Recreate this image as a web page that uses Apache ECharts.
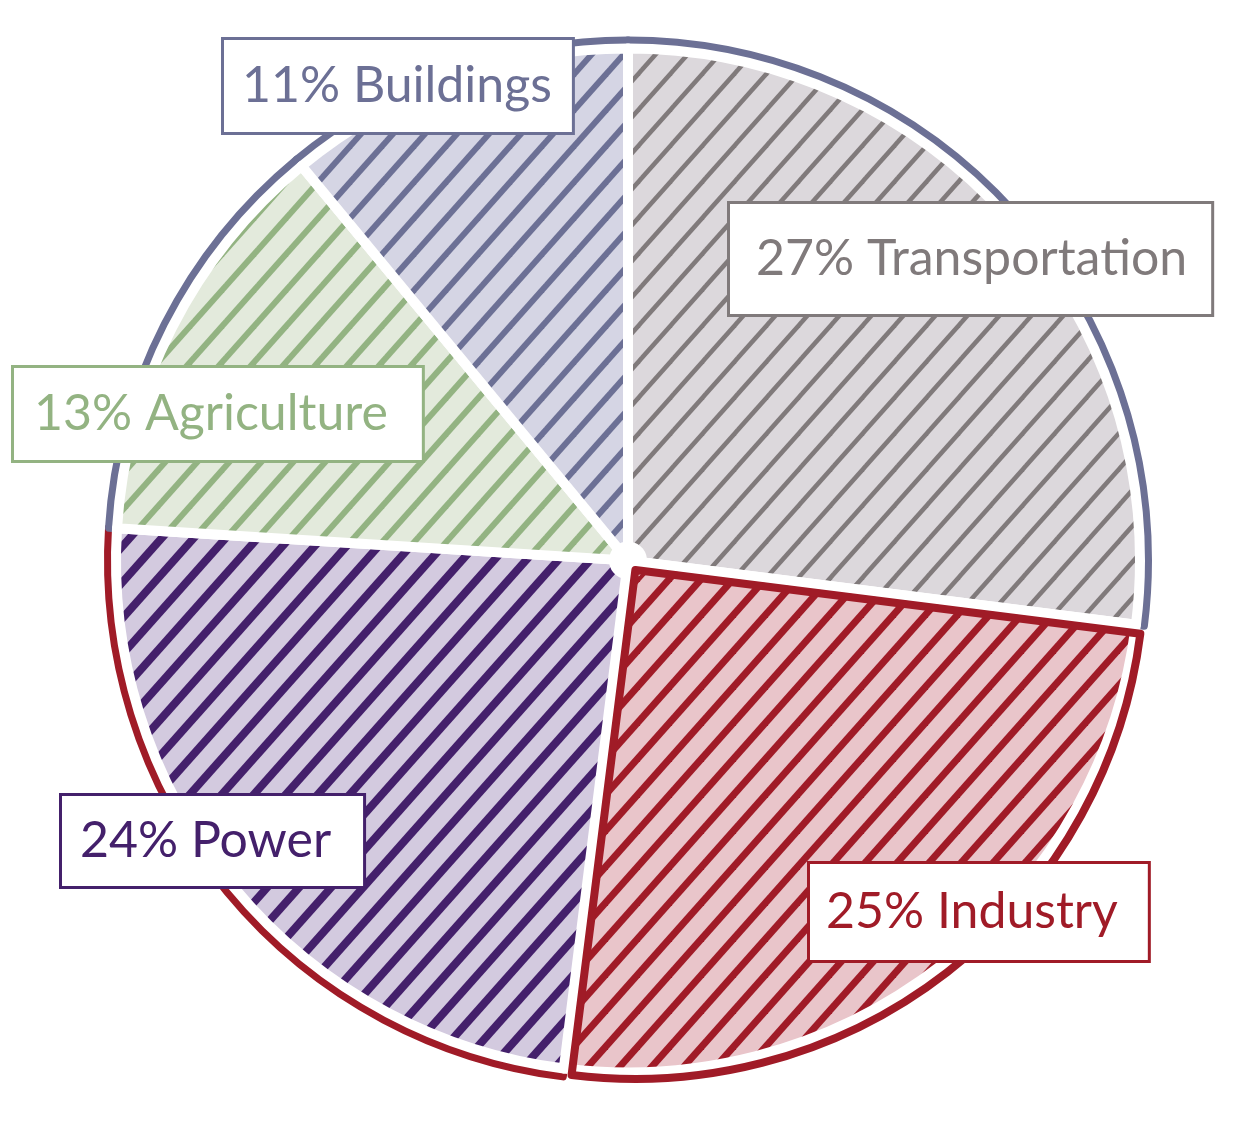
<!DOCTYPE html>
<html>
<head>
<meta charset="utf-8">
<script src="https://cdn.jsdelivr.net/npm/echarts@6/dist/echarts.min.js"></script>
<style>
  html, body { margin: 0; padding: 0; background: #ffffff; }
  #chart { width: 1251px; height: 1121px; }
</style>
</head>
<body>
<div id="chart"></div>
<script>
// ---- data ----
const categories = ['Transportation', 'Industry', 'Power', 'Agriculture', 'Buildings'];
const values = [27, 25, 24, 13, 11];

// ---- styles ----
const lineColors = ['#807a7b', '#a01b27', '#44206b', '#93b382', '#6c7095'];
const fillColors = ['#dcd8dc', '#e9c5ca', '#d3cadf', '#e3eadc', '#d5d5e4'];
const outlineColors = ['#6c7095', 'rgba(0,0,0,0)', '#a01b27', '#6c7095', '#6c7095'];
const hatchWidths = [4.5, 7, 8, 6, 6];
// label box top-left positions (px)
const labelPos = [[730, 204], [810, 864], [62, 796], [14, 368], [224, 40]];
const labelPad = [[28, 24, 28, 26], [21, 30, 21, 16], [18, 32, 18, 18], [19, 34, 19, 20], [19, 20, 19, 18]];

function makeHatch(bg, fg, lw) {
  const w = 32, h = 36;
  const c = document.createElement('canvas');
  c.width = w; c.height = h;
  const ctx = c.getContext('2d');
  ctx.fillStyle = bg;
  ctx.fillRect(0, 0, w, h);
  ctx.strokeStyle = fg;
  ctx.lineWidth = lw;
  ctx.lineCap = 'butt';
  for (let k = -1; k <= 2; k++) {
    const cx = k * w;
    ctx.beginPath();
    ctx.moveTo(cx - 2 * w, 2 * h);
    ctx.lineTo(cx + w, -h);
    ctx.stroke();
  }
  return c;
}

const center = ['50.2%', '50%'];
const chart = echarts.init(document.getElementById('chart'));

const outlineData = categories.map((name, i) => ({
  name, value: values[i],
  itemStyle: { color: 'rgba(0,0,0,0)', borderColor: outlineColors[i], borderWidth: 8 }
}));

const fillData = categories.map((name, i) => ({
  name, value: values[i],
  itemStyle: {
    color: { image: makeHatch(fillColors[i], lineColors[i], hatchWidths[i]), repeat: 'repeat' },
    borderColor: '#ffffff', borderWidth: 10
  }
}));

const edgeData = categories.map((name, i) => ({
  name, value: values[i],
  selected: name === 'Industry',
  itemStyle: { color: 'rgba(0,0,0,0)', borderWidth: 0 }
}));

const labelData = categories.map((name, i) => ({
  name, value: values[i],
  itemStyle: { color: 'rgba(0,0,0,0)', borderWidth: 0 },
  label: {
    color: lineColors[i],
    borderColor: lineColors[i],
    padding: labelPad[i]
  }
}));

const common = {
  type: 'pie', silent: true, center: center,
  startAngle: 90, clockwise: true,
  emphasis: { disabled: true },
  labelLine: { show: false }
};

chart.setOption({
  animation: false,
  backgroundColor: '#ffffff',
  series: [
    Object.assign({}, common, {
      z: 1, radius: [505, 520],
      label: { show: false },
      data: outlineData
    }),
    Object.assign({}, common, {
      z: 2, radius: [14, 512],
      label: { show: false },
      data: fillData
    }),
    Object.assign({}, common, {
      z: 3, radius: [0, 509],
      selectedMode: 'single', selectedOffset: 12,
      select: { itemStyle: { color: 'rgba(0,0,0,0)', borderColor: '#a01b27', borderWidth: 8 } },
      label: { show: false },
      data: edgeData
    }),
    Object.assign({}, common, {
      z: 4, radius: [0, 508],
      label: {
        show: true,
        position: 'inside',
        formatter: p => p.value + '% ' + p.name,
        fontFamily: 'Lato',
        fontSize: 50,
        lineHeight: 54,
        backgroundColor: '#ffffff',
        borderWidth: 3
      },
      labelLayout: function (params) {
        const i = params.dataIndex;
        return { x: labelPos[i][0], y: labelPos[i][1], align: 'left', verticalAlign: 'top' };
      },
      data: labelData
    })
  ]
});
</script>
</body>
</html>
